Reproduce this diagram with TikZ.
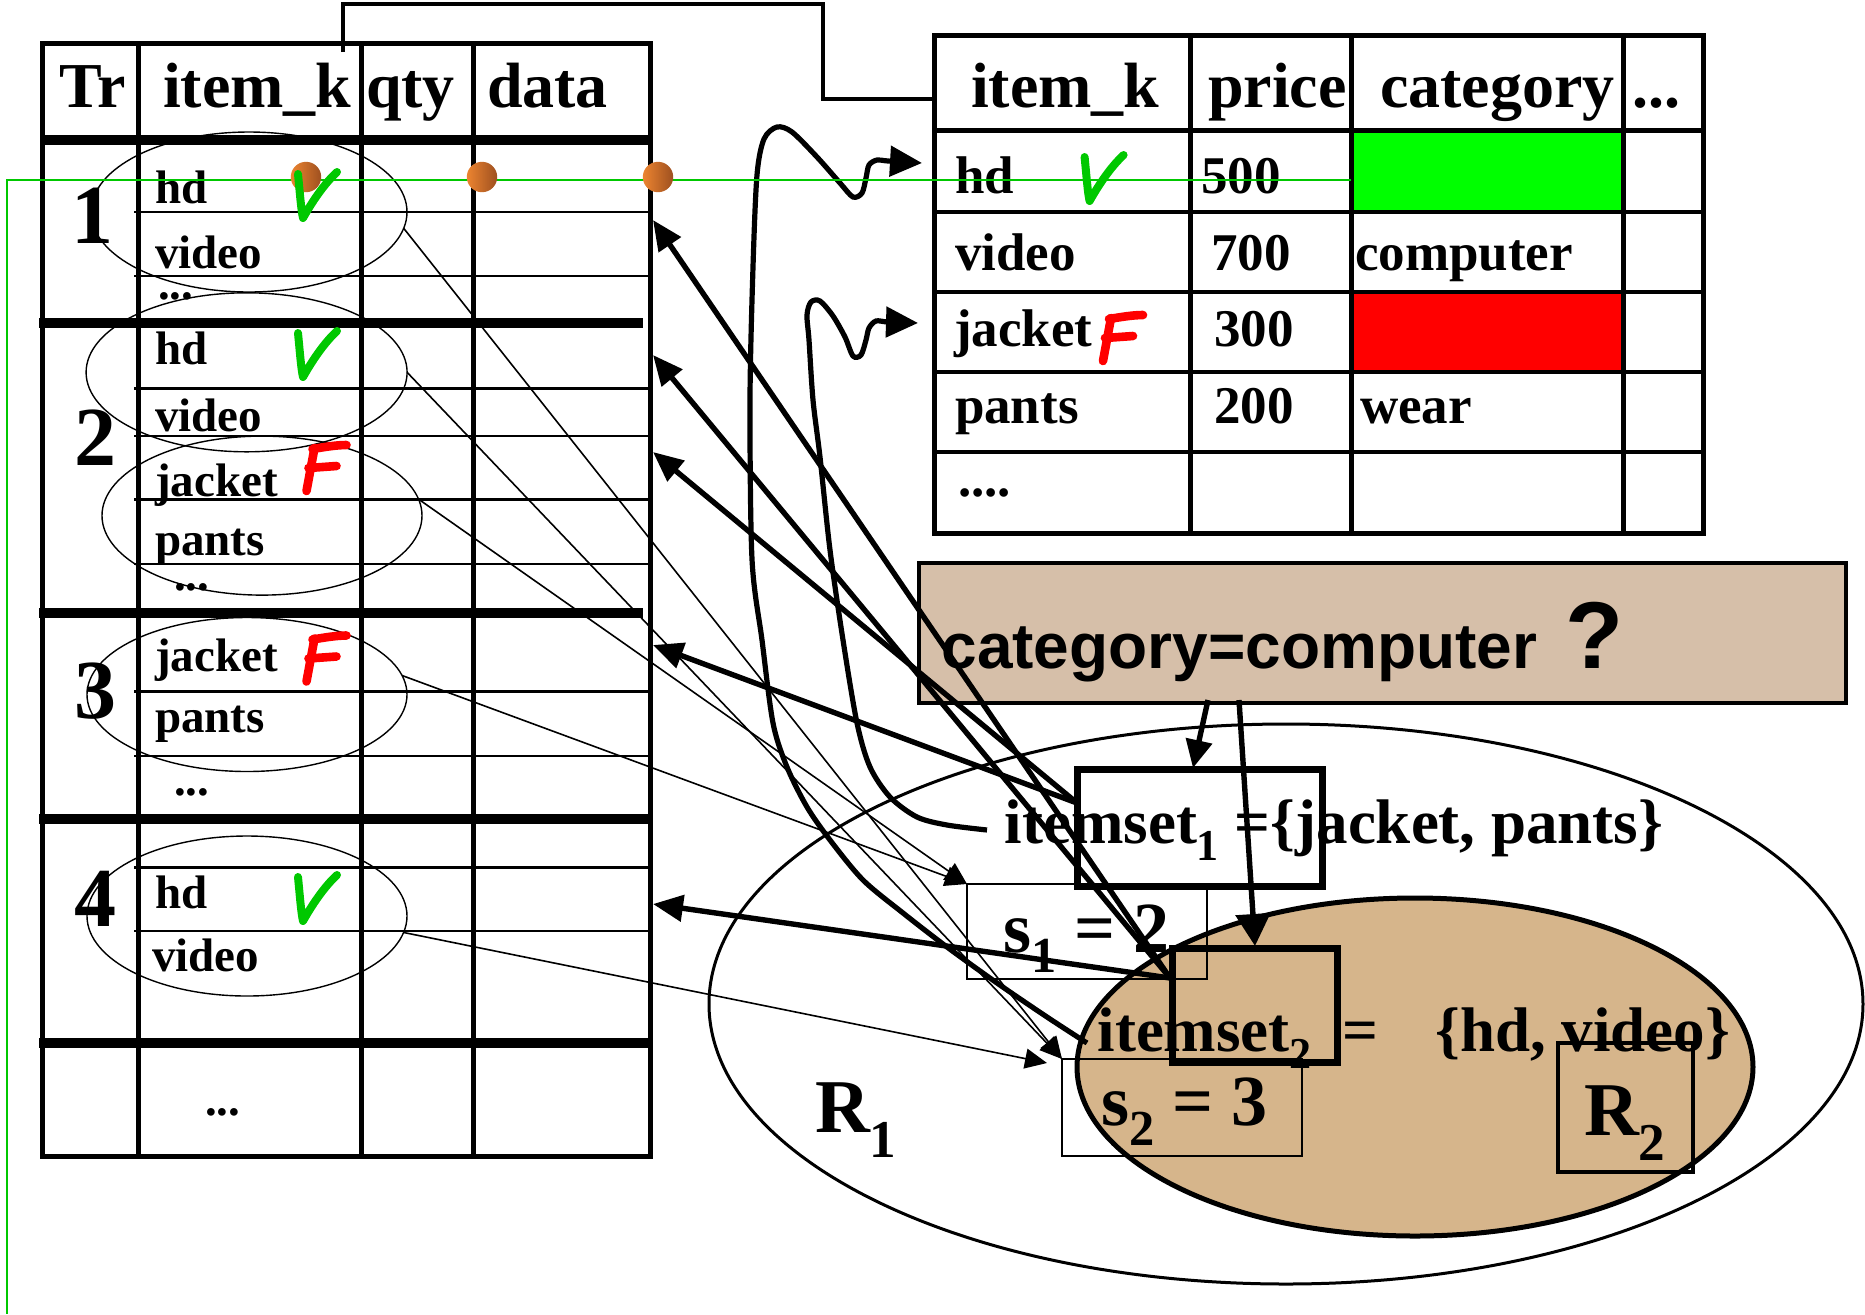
\documentclass[tikz,border=0pt]{standalone}
\usepackage{fontspec}
\setmainfont{Liberation Serif}
\newfontfamily\arialfam{Liberation Sans}
\usepackage{graphicx}
\usetikzlibrary{arrows.meta,shapes.geometric}

\definecolor{tickgreen}{RGB}{0,200,0}
\definecolor{wiregreen}{RGB}{0,200,0}
\definecolor{cellgreen}{RGB}{0,255,0}
\definecolor{cellred}{RGB}{255,0,0}
\definecolor{markred}{RGB}{255,0,0}
\definecolor{regtan}{RGB}{214,181,139}
\definecolor{boxtan}{RGB}{214,191,169}
\definecolor{dotlight}{RGB}{236,132,48}
\definecolor{dotdark}{RGB}{158,80,32}

\newcommand{\fsz}[1]{\fontsize{#1}{#1}\selectfont}
\newcommand{\lowsub}[2]{\raisebox{-#2em}{\scalebox{0.7}{#1}}}

\begin{document}
\begin{tikzpicture}[x=0.5pt, y=-0.5pt,
  tabrule/.style={line width=2.5pt},
  seprule/.style={line width=5pt},
  rowrule/.style={line width=1.1pt},
  gridrule/.style={line width=2pt},
  ring/.style={draw, ellipse, line width=0.7pt, inner sep=0pt, outer sep=0pt},
  txt/.style={anchor=base west, inner sep=0pt, outer sep=0pt},
  hdr/.style={txt, font=\bfseries\fsz{32}},
  itm/.style={txt, font=\bfseries\fsz{23.5}},
  cell/.style={txt, font=\bfseries\fsz{26.5}},
  setfont/.style={txt, font=\bfseries\fsz{31.5}},
  rownum/.style={anchor=base, inner sep=0pt, outer sep=0pt, font=\bfseries\fsz{42}},
  frame/.style={draw, inner sep=0pt, outer sep=0pt},
  link/.style={line width=0.8pt, -{Triangle[length=11pt, width=10pt]}},
  fat/.style={line width=2.7pt, -{Triangle[length=15pt, width=13pt]}},
  wave/.style={line width=2.6pt, -{Triangle[length=16pt, width=15pt]}},
  wire/.style={line width=2pt},
  greenwire/.style={wiregreen, line width=0.8pt},
  tickV/.pic={\draw[tickgreen, line width=4pt, line cap=round, line join=round]
      (0,0) .. controls (2,20) and (3,35) .. (5,44) .. controls (14,28) and (26,10) .. (39,-2);},
  markF/.pic={\draw[markred, line width=4.3pt, line cap=round]
      (0,1) .. controls (12,-1) and (24,-3) .. (34,-3);
    \draw[markred, line width=4.3pt, line cap=round] (2,0) -- (-6,43);
    \draw[markred, line width=4.3pt, line cap=round] (-4,20) -- (24,18);}
]
\useasboundingbox (0,0) rectangle (1865,1314);
\fill[white] (0,0) rectangle (1865,1314);

% ---------- transaction table ----------
\foreach \yy in {211.6,275.6,388.5,436.3,499.4,563.7,691.4,755.6,867.5,931}
  \draw[rowrule] (134,\yy) -- (650,\yy);
\draw[tabrule] (42,43) rectangle (650,1156);
\foreach \xx in {138,361,473} \draw[tabrule] (\xx,43) -- (\xx,1156);
\draw[seprule] (42,140) -- (650,140);
\draw[seprule] (39,323) -- (643,323);
\draw[seprule] (39,613) -- (643,613);
\draw[seprule] (39,819) -- (650,819);
\draw[seprule] (39,1043) -- (650,1043);

\node[hdr] (thTr)   at (60,107)  {Tr};
\node[hdr] (thItem) at (163,107) {item\_k};
\node[hdr] (thQty)  at (366,107) {qty};
\node[hdr] (thData) at (487,107) {data};

\node[rownum] (n1) at (92,243) {1};
\node[rownum] (n2) at (95,465) {2};
\node[rownum] (n3) at (95,718) {3};
\node[rownum] (n4) at (95,926) {4};

\node[itm] (a1) at (155,203) {hd};
\node[itm] (a2) at (155,268) {video};
\node[itm] (a3) at (158,299) {...};
\node[itm] (b1) at (155,364) {hd};
\node[itm] (b2) at (155,431) {video};
\node[itm] (b3) at (155,496) {jacket};
\node[itm] (b4) at (155,555) {pants};
\node[itm] (b5) at (174,590) {...};
\node[itm] (c1) at (155,671) {jacket};
\node[itm] (c2) at (155,732) {pants};
\node[itm] (c3) at (174,795) {...};
\node[itm] (d1t) at (155,908) {hd};
\node[itm] (d2t) at (152,971) {video};
\node[itm] (e1t) at (205,1115) {...};

\node[ring, minimum width=158pt,   minimum height=80pt]   (e1) at (249,212) {};
\node[ring, minimum width=160.5pt, minimum height=79.5pt] (e2) at (246.6,372.3) {};
\node[ring, minimum width=160pt,   minimum height=79.5pt] (e3) at (262,515.6) {};
\node[ring, minimum width=160pt,   minimum height=77pt]   (e4) at (247,694.5) {};
\node[ring, minimum width=160pt,   minimum height=80pt]   (e5) at (247,916) {};

% ---------- item table ----------
\fill[cellgreen] (1351,131) rectangle (1623,212);
\fill[cellred] (1351,292) rectangle (1623,372);
\draw[tabrule] (934,35) rectangle (1703,533);
\foreach \xx in {1190.5,1351,1623} \draw[tabrule] (\xx,35) -- (\xx,533);
\draw[tabrule] (934,130.4) -- (1703,130.4);
\foreach \yy in {211.8,292,372,451.8} \draw[gridrule] (934,\yy) -- (1703,\yy);

\node[hdr] (rhItem) at (971,107)  {item\_k};
\node[hdr] (rhPrice) at (1208,107) {price};
\node[hdr] (rhCat)  at (1380,107) {category};
\node[hdr] (rhMore) at (1632,107) {...};
\node[cell] (p1) at (955,193)  {hd};
\node[cell] (q1) at (1201,193) {500};
\node[cell] (p2) at (955,270)  {video};
\node[cell] (q2) at (1211,270) {700};
\node[cell] (k2) at (1355,270) {computer};
\node[cell] (p3) at (954,346)  {jacket};
\node[cell] (q3) at (1214,346) {300};
\node[cell] (p4) at (955,423)  {pants};
\node[cell] (q4) at (1214,423) {200};
\node[cell] (k4) at (1360,423) {wear};
\node[cell] (p5) at (958,496)  {....};

% ---------- regions ----------
\node[draw, ellipse, line width=1.5pt, inner sep=0pt, minimum width=577pt, minimum height=280pt] (reg1) at (1286,1004) {};
\node[draw, ellipse, fill=regtan, line width=2.5pt, inner sep=0pt, minimum width=338pt, minimum height=169pt] (reg2) at (1415,1067) {};

% ---------- query box ----------
\node[frame, fill=boxtan, line width=2pt, minimum width=463.5pt, minimum height=70pt] (qbox) at (1382.5,633) {};
\node[txt, font=\arialfam\bfseries\fsz{32}] (qtxt) at (941.5,668) {category=computer};
\node[txt, font=\arialfam\bfseries\fsz{47.5}] (qmark) at (1565,668) {?};

% ---------- itemsets and supports ----------
\node[frame, line width=0.75pt, minimum width=120pt, minimum height=47.5pt] (s1box) at (1087,931.5) {};
\node[frame, line width=0.75pt, minimum width=120pt, minimum height=48.5pt] (s2box) at (1182,1107.5) {};
\node[setfont] (is1txt) at (1004.6,843.5) {itemset\lowsub{1}{0.27} =\{jacket, pants\}};
\node[setfont] (is2txt) at (1097.5,1051) {itemset\lowsub{2}{0.27}};
\node[setfont] (is2eq)  at (1342.6,1051) {=};
\node[setfont] (is2set) at (1435.5,1051) {\{hd, video\}};
\node[txt, font=\bfseries\fsz{36}] (s1txt) at (1003,952) {s\lowsub{1}{0.28} = 2};
\node[txt, font=\bfseries\fsz{36}] (s2txt) at (1101,1125) {s\lowsub{2}{0.28} = 3};
\node[txt, font=\bfseries\fsz{38}] (r1txt) at (815,1132) {R\lowsub{1}{0.33}};
\node[txt, font=\bfseries\fsz{38}] (r2txt) at (1584,1135) {R\lowsub{2}{0.33}};
\node[frame, line width=3.5pt, minimum width=122.5pt, minimum height=58.5pt] (isbox1) at (1199.5,827.5) {};
\node[frame, line width=3.5pt, minimum width=82.5pt, minimum height=57pt] (isbox2) at (1254.5,1005) {};
\node[frame, line width=2pt, minimum width=67.5pt, minimum height=64.5pt] (r2box) at (1625.5,1107.5) {};

% ---------- thin links: transactions to supports ----------
\coordinate (s2in) at (1047,1063);
\draw[link] (e1.-6) -- (s2box.north west);
\draw[link] (e2.east) -- (s2box.north west);
\draw[link] (e3.6) -- (s1box.north west);
\draw[link] (e4.7) -- (s1box.north west);
\draw[link] (e5.-6) -- (s2in);

% ---------- thick links: itemsets back to transactions ----------
\coordinate (jA) at (1077,803);
\coordinate (jB) at (1170,978);
\coordinate (d1) at (653,220);
\coordinate (d2) at (653,355);
\coordinate (d3) at (653,452);
\coordinate (d4) at (653,645);
\coordinate (d5) at (653,904);
\draw[fat] (jB) -- (d1);
\draw[fat] (jB) -- (d2);
\draw[fat] (jA) -- (d3);
\draw[fat] (jA) -- (d4);
\draw[fat] (jB) -- (d5);

% ---------- query arrows ----------
\coordinate (qa1) at (1208,700);
\coordinate (qa2) at (1239,700);
\coordinate (qt1) at (1193,768);
\coordinate (qt2) at (1255,946);
\draw[line width=2.7pt, -{Triangle[length=14pt, width=13pt]}] (qa1) -- (qt1);
\draw[line width=2.7pt, -{Triangle[length=16pt, width=17pt]}] (qa2) -- (qt2);

% ---------- wavy lookups into the item table ----------
\coordinate (w1s) at (1087,1043);
\coordinate (w1e) at (922,163);
\coordinate (w2s) at (987,830);
\coordinate (w2e) at (918,323);
\draw[wave] plot[smooth, tension=0.5] coordinates {(w1s) (1047,1017) (997,983) (947,947) (903,913)
  (863,880) (830,840) (807,807) (787,767) (773,723) (762,640) (752,559) (750,400) (753,267)
  (757,175) (764,139) (777,127) (792,132) (817,157) (840,183) (853,197) (862,193) (866,178)
  (869,165) (877,160) (888,161) (w1e)};
\draw[wave] plot[smooth, tension=0.5] coordinates {(w2s) (947,825) (917,817) (890,797) (870,767)
  (857,723) (843,640) (830,550) (820,457) (813,400) (809,340) (807,315) (811,302) (820,301)
  (833,316) (845,337) (853,356) (861,355) (866,340) (869,328) (876,321) (888,322) (w2e)};

% ---------- key link between the tables ----------
\coordinate (keyL) at (343,52);
\coordinate (keyR) at (934,99);
\draw[wire] (keyL) -- (343,4) -- (823,4) -- (823,99) -- (keyR);

% ---------- green marker line and dots ----------
\coordinate (gA) at (1351,180);
\coordinate (gB) at (7,180);
\coordinate (gC) at (7,1314);
\draw[greenwire] (gA) -- (gB) -- (gC);
\foreach \xx in {306,482,658}
  \shade[left color=dotlight, right color=dotdark] (\xx,177) circle [radius=7.6pt];

% ---------- check marks ----------
\pic at (298,174) {tickV};
\pic at (298,333) {tickV};
\pic at (298,877) {tickV};
\pic at (1084.6,157) {tickV};
\pic at (312.5,448) {markF};
\pic at (312.5,638.5) {markF};
\pic at (1109,318) {markF};
\end{tikzpicture}
\end{document}
